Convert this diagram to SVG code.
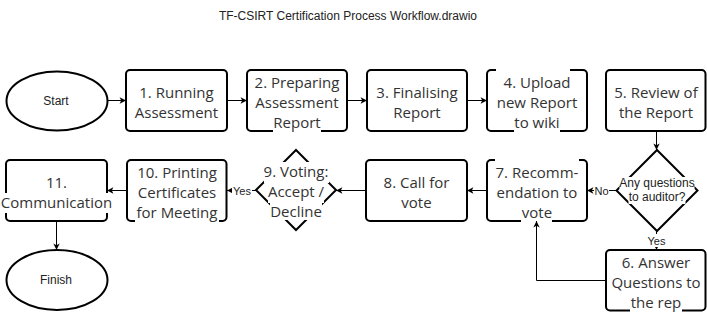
<svg xmlns="http://www.w3.org/2000/svg" width="707" height="312" viewBox="0 0 707 312">
  <defs>
    <style>
      .box { fill: #fff; stroke: #000; stroke-width: 2; }
      .bg { fill: #fff; stroke: none; }
      .lbl { font-family: "Open Sans", "Noto Sans", sans-serif; font-size: 15px; fill: #333; text-anchor: middle; }
      .sm { font-family: "Liberation Sans", Arial, sans-serif; font-size: 12px; fill: #222; text-anchor: middle; }
      .el { font-family: "Liberation Sans", Arial, sans-serif; font-size: 11px; fill: #222; text-anchor: middle; }
      .edge { fill: none; stroke: #000; stroke-width: 1; marker-end: url(#arrow); }
    </style>
    <marker id="arrow" viewBox="0 0 10 10" refX="9" refY="5" markerWidth="8" markerHeight="8" markerUnits="userSpaceOnUse" orient="auto">
      <path d="M1,1 L9,5 L1,9 L3,5 Z" fill="#000"/>
    </marker>
  </defs>

  <rect width="707" height="312" fill="#fff"/>

  <text class="sm" x="348" y="20">TF-CSIRT Certification Process Workflow.drawio</text>

  <!-- top row -->
  <g id="start">
    <ellipse class="box" cx="57" cy="101" rx="50.5" ry="29.5"/>
    <text class="sm" x="56" y="105">Start</text>
  </g>
  <g id="running-assessment">
    <rect class="box" x="126" y="70" width="101" height="61" rx="4"/>
    <text class="lbl" x="176.5" y="98">1. Running</text>
    <text class="lbl" x="176.5" y="118">Assessment</text>
  </g>
  <g id="preparing-report">
    <rect class="box" x="247" y="70" width="100" height="61" rx="4"/>
    <rect class="bg" x="273" y="113" width="48" height="20"/>
    <text class="lbl" x="297" y="88">2. Preparing</text>
    <text class="lbl" x="297" y="108">Assessment</text>
    <text class="lbl" x="297" y="128">Report</text>
  </g>
  <g id="finalising-report">
    <rect class="box" x="367" y="70" width="100" height="61" rx="4"/>
    <text class="lbl" x="417" y="98">3. Finalising</text>
    <text class="lbl" x="417" y="118">Report</text>
  </g>
  <g id="upload-report">
    <rect class="box" x="487" y="70" width="100" height="61" rx="4"/>
    <rect class="bg" x="496" y="68" width="74" height="24"/>
    <rect class="bg" x="514" y="113" width="46" height="20"/>
    <text class="lbl" x="537" y="88">4. Upload</text>
    <text class="lbl" x="537" y="108">new Report</text>
    <text class="lbl" x="537" y="128">to wiki</text>
  </g>
  <g id="review-report">
    <rect class="box" x="606" y="70" width="99.5" height="61" rx="4"/>
    <text class="lbl" x="656" y="98">5. Review of</text>
    <text class="lbl" x="656" y="118">the Report</text>
  </g>

  <!-- bottom row -->
  <g id="questions-decision">
    <path class="box" d="M657,150 L697.5,190.5 L657,231 L616.5,190.5 Z"/>
    <rect class="bg" x="619.5" y="177" width="75" height="14"/>
    <rect class="bg" x="628.5" y="191" width="57" height="13"/>
    <text class="sm" x="657" y="187">Any questions</text>
    <text class="sm" x="657" y="201">to auditor?</text>
  </g>
  <g id="answer-questions">
    <rect class="box" x="606" y="250" width="99.5" height="60.5" rx="4"/>
    <rect class="bg" x="630" y="293" width="52" height="20"/>
    <text class="lbl" x="656" y="268">6. Answer</text>
    <text class="lbl" x="656" y="288">Questions to</text>
    <text class="lbl" x="656" y="308">the rep</text>
  </g>
  <g id="recommendation">
    <rect class="box" x="487" y="160" width="100" height="61" rx="4"/>
    <rect class="bg" x="495" y="158" width="84" height="24"/>
    <rect class="bg" x="521" y="203" width="31" height="20"/>
    <text class="lbl" x="537" y="178">7. Recomm-</text>
    <text class="lbl" x="537" y="198">endation to</text>
    <text class="lbl" x="537" y="218">vote</text>
  </g>
  <g id="call-for-vote">
    <rect class="box" x="366" y="160" width="101" height="61" rx="4"/>
    <text class="lbl" x="416.5" y="188">8. Call for</text>
    <text class="lbl" x="416.5" y="208">vote</text>
  </g>
  <g id="voting">
    <path class="box" d="M296,150 L336,190 L296,230 L256,190 Z"/>
    <rect class="bg" x="264" y="162" width="65" height="21"/>
    <rect class="bg" x="268" y="183" width="56" height="20"/>
    <rect class="bg" x="270" y="203" width="52" height="17"/>
    <text class="lbl" x="296" y="177">9. Voting:</text>
    <text class="lbl" x="296" y="197">Accept /</text>
    <text class="lbl" x="296" y="217">Decline</text>
  </g>
  <g id="printing-certificates">
    <rect class="box" x="127" y="160" width="99.5" height="61" rx="4"/>
    <rect class="bg" x="135" y="203" width="84" height="20"/>
    <text class="lbl" x="177" y="178">10. Printing</text>
    <text class="lbl" x="177" y="198">Certificates</text>
    <text class="lbl" x="177" y="218">for Meeting</text>
  </g>
  <g id="communication">
    <rect class="box" x="6" y="160" width="101" height="61" rx="4"/>
    <rect class="bg" x="0" y="193" width="113" height="20"/>
    <text class="lbl" x="56.5" y="188">11.</text>
    <text class="lbl" x="56.5" y="208">Communication</text>
  </g>
  <g id="finish">
    <ellipse class="box" cx="57" cy="280" rx="50.5" ry="30"/>
    <text class="sm" x="56" y="284">Finish</text>
  </g>

  <!-- connectors -->
  <g id="connectors">
    <path class="edge" d="M107.5,100.5 L126,100.5"/>
    <path class="edge" d="M227,100.5 L247,100.5"/>
    <path class="edge" d="M347,100.5 L367,100.5"/>
    <path class="edge" d="M467,100.5 L487,100.5"/>
    <path class="edge" d="M656.5,131 L656.5,150"/>
    <path class="edge" d="M616.5,190.5 L587,190.5"/>
    <path class="edge" d="M656.5,231 L656.5,250"/>
    <path class="edge" d="M606,280.5 L536.5,280.5 L536.5,221"/>
    <path class="edge" d="M487,190.5 L467,190.5"/>
    <path class="edge" d="M366,190.5 L336,190.5"/>
    <path class="edge" d="M256,190.5 L227,190.5"/>
    <path class="edge" d="M127,190.5 L107,190.5"/>
    <path class="edge" d="M56.5,221 L56.5,250"/>

    <rect class="bg" x="594" y="184" width="15" height="13"/>
    <text class="el" x="601.5" y="194.5">No</text>
    <rect class="bg" x="647" y="234" width="19" height="13"/>
    <text class="el" x="656.5" y="244.5">Yes</text>
    <rect class="bg" x="232" y="184" width="20" height="13"/>
    <text class="el" x="242" y="194.5">Yes</text>
  </g>
</svg>
